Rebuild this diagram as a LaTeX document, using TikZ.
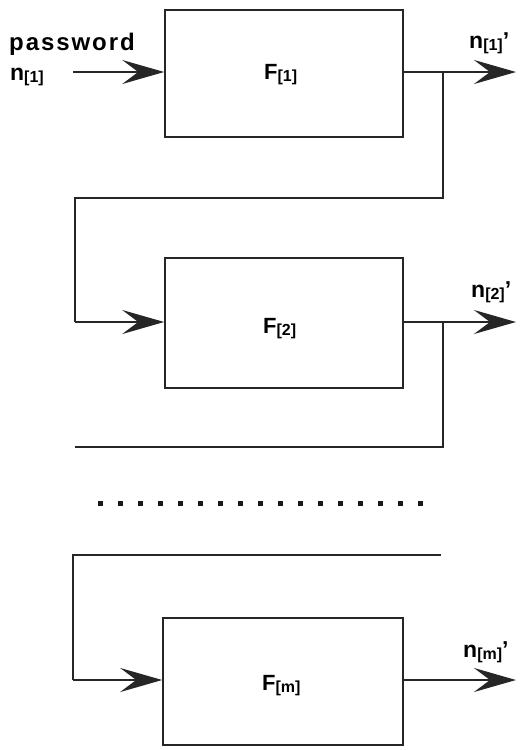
\documentclass[tikz,border=0pt]{standalone}
\usepackage{fontspec}
\setmainfont{Liberation Sans}
\usetikzlibrary{arrows.meta}
\newcommand{\lbl}[2]{#1{\fontsize{16}{16}\selectfont\raisebox{-2pt}{[#2]}}}
\begin{document}
\begin{tikzpicture}[x=1pt,y=-1pt,
  wire/.style={line width=1.6pt,draw=black!85},
  feed/.style={wire,-{Stealth[length=42pt,width=24pt,inset=16pt]}},
  fbox/.style={draw=black!85,line width=1.6pt,minimum width=238pt,inner sep=0pt},
  ftext/.style={font=\fontsize{22}{22}\selectfont\bfseries,anchor=base west,inner sep=0pt},
  ntext/.style={font=\fontsize{23}{23}\selectfont\bfseries,anchor=base west,inner sep=0pt},
  dot/.style={fill=black!90,minimum size=5pt,inner sep=0pt}]
\useasboundingbox (0,0) rectangle (522,750);
\fill[white] (0,0) rectangle (522,750);

% processing stages
\node[fbox,minimum height=127pt] (f1) at (284,73.5) {};
\node[fbox,minimum height=130pt] (f2) at (284,323) {};
\node[fbox,minimum height=127pt,minimum width=240pt] (fm) at (283,681.5) {};

\node[ftext] (t1) at (264,79) {\lbl{F}{1}};
\node[ftext] (t2) at (263,333) {\lbl{F}{2}};
\node[ftext] (tm) at (262,690) {\lbl{F}{m}};

% input and output labels
\node[ntext,font=\fontsize{24}{24}\selectfont\bfseries\addfontfeatures{LetterSpace=8}] (pw) at (9,50) {password};
\node[ntext] (n1) at (10,80) {\lbl{n}{1}};
\node[ntext] (o1) at (469,48) {\lbl{n}{1}'};
\node[ntext] (o2) at (471,297) {\lbl{n}{2}'};
\node[ntext] (om) at (463,657) {\lbl{n}{m}'};

% routing points
\coordinate (in1) at (73,72);
\coordinate (out1) at (516,72);
\coordinate (b1) at (443,72);
\coordinate (c1) at (443,198);
\coordinate (d1) at (75,198);
\coordinate (e1) at (75,322);
\coordinate (out2) at (516,322);
\coordinate (b2) at (443,322);
\coordinate (c2) at (443,447);
\coordinate (d2) at (75,447);
\coordinate (c3) at (441,555);
\coordinate (d3) at (73,555);
\coordinate (e3) at (73,680);
\coordinate (out3) at (516,680);

% connectors
\draw[feed] (in1) -- (in1 -| f1.west);
\draw[feed] (f1.east |- out1) -- (out1);
\draw[wire] (b1) -- (c1) -- (d1) -- (e1);
\draw[feed] (e1) -- (e1 -| f2.west);
\draw[feed] (f2.east |- out2) -- (out2);
\draw[wire] (b2) -- (c2) -- (d2);
\draw[wire] (c3) -- (d3) -- (e3);
\draw[feed] (e3) -- (e3 -| fm.west);
\draw[feed] (fm.east |- out3) -- (out3);

% omitted stages
\foreach \i in {0,...,16}
  \node[dot] (dot\i) at (100+20*\i,503) {};
\end{tikzpicture}
\end{document}
